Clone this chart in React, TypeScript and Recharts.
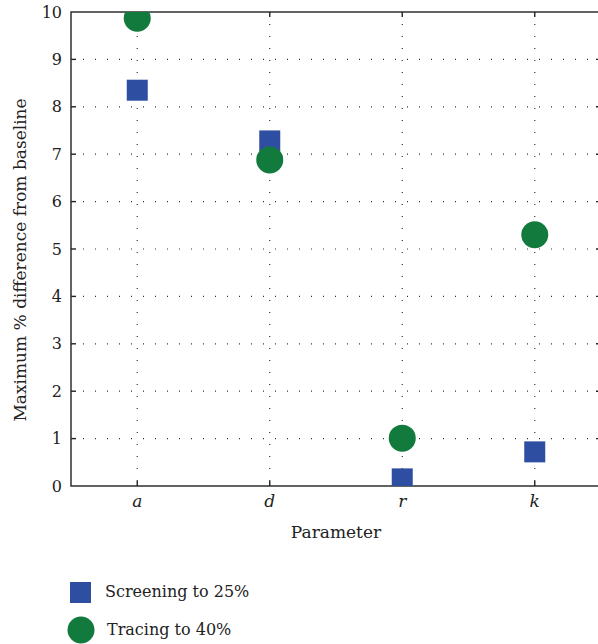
import React from 'react';
import { ScatterChart, Scatter, XAxis, YAxis, CartesianGrid, Legend, Label } from 'recharts';

const categories = ['a', 'd', 'r', 'k'];
const screening = [8.35, 7.28, 0.15, 0.72];
const tracing = [9.87, 6.88, 1.01, 5.3];
const yTicks = [0, 1, 2, 3, 4, 5, 6, 7, 8, 9, 10];
const xTicks = [0, 1, 2, 3];
const innerYTicks = [1, 2, 3, 4, 5, 6, 7, 8, 9];

const X_MIN = -0.5;
const X_MAX = 3.5;
const Y_MIN = 0;
const Y_MAX = 10;

// layout
const CHART_W = 602;
const CHART_H = 644;
const MARGIN_TOP = 12;
const MARGIN_RIGHT = 1;
const Y_AXIS_W = 71;
const X_AXIS_H = 82;
const LEGEND_H = 76;
const PLOT_L = Y_AXIS_W;
const PLOT_R = CHART_W - MARGIN_RIGHT;
const PLOT_T = MARGIN_TOP;
const PLOT_B = CHART_H - LEGEND_H - X_AXIS_H;
const TICK_LEN = 5;

const BLUE = '#2e4ea1';
const GREEN = '#127a3c';
const FONT = 'DejaVu Serif';
const INK = '#222';

const screeningData = categories.map((c, i) => ({ x: i, y: screening[i], name: c }));
const tracingData = categories.map((c, i) => ({ x: i, y: tracing[i], name: c }));

const sx = (v: number) => PLOT_L + ((v - X_MIN) / (X_MAX - X_MIN)) * (PLOT_R - PLOT_L);
const sy = (v: number) => PLOT_B - ((v - Y_MIN) / (Y_MAX - Y_MIN)) * (PLOT_B - PLOT_T);

const SquareDot = (props: any) => {
  const { cx, cy } = props;
  return <rect x={cx - 10.5} y={cy - 10.5} width={21} height={21} fill={BLUE} />;
};

const CircleDot = (props: any) => {
  const { cx, cy } = props;
  return <circle cx={cx} cy={cy} r={13.5} fill={GREEN} />;
};

// box frame with inward ticks, drawn behind the chart
const Frame = () => (
  <svg width={CHART_W} height={CHART_H} style={{ position: 'absolute', left: 0, top: 0, pointerEvents: 'none' }}>
    <g stroke={INK} strokeWidth={1.4} fill="none">
      <rect x={PLOT_L} y={PLOT_T} width={PLOT_R - PLOT_L} height={PLOT_B - PLOT_T} />
      {innerYTicks.map((v) => (
        <g key={'y' + v}>
          <line x1={PLOT_L} y1={sy(v)} x2={PLOT_L + TICK_LEN} y2={sy(v)} />
          <line x1={PLOT_R - TICK_LEN} y1={sy(v)} x2={PLOT_R} y2={sy(v)} />
        </g>
      ))}
      {xTicks.map((v) => (
        <g key={'x' + v}>
          <line x1={sx(v)} y1={PLOT_B} x2={sx(v)} y2={PLOT_B - TICK_LEN} />
          <line x1={sx(v)} y1={PLOT_T} x2={sx(v)} y2={PLOT_T + TICK_LEN} />
        </g>
      ))}
    </g>
  </svg>
);

const LegendBox = () => (
  <div style={{ position: 'relative', width: 598, height: LEGEND_H, fontSize: 16, color: INK, lineHeight: '20px', fontFamily: FONT }}>
    <svg width={30} height={30} style={{ position: 'absolute', left: 66, top: 10 }}>
      <rect x={4} y={4} width={21} height={21} fill={BLUE} />
    </svg>
    <span style={{ position: 'absolute', left: 105, top: 14, whiteSpace: 'nowrap' }}>Screening to 25%</span>
    <svg width={30} height={30} style={{ position: 'absolute', left: 66, top: 47 }}>
      <circle cx={15} cy={15} r={13.5} fill={GREEN} />
    </svg>
    <span style={{ position: 'absolute', left: 107, top: 52, whiteSpace: 'nowrap' }}>Tracing to 40%</span>
  </div>
);

export default function App() {
  return (
    <div style={{ position: 'absolute', left: 0, top: 0, width: 598, height: 644, overflow: 'hidden', background: '#fff' }}>
      <Frame />
      <ScatterChart width={CHART_W} height={CHART_H} margin={{ top: MARGIN_TOP, right: MARGIN_RIGHT, bottom: 0, left: 0 }}>
        <CartesianGrid
          stroke="#333"
          strokeDasharray="1 11"
          strokeWidth={1.2}
          horizontalValues={innerYTicks}
          verticalValues={xTicks}
        />
        <XAxis
          dataKey="x"
          type="number"
          domain={[X_MIN, X_MAX]}
          ticks={xTicks}
          allowDataOverflow
          tickFormatter={(v: number) => categories[v] ?? ''}
          height={X_AXIS_H}
          tickSize={-5}
          tickMargin={14}
          axisLine={false}
          tickLine={false}
          tick={{ fill: INK, fontSize: 17, fontFamily: FONT, fontStyle: 'italic' }}
        >
          <Label
            content={(p: any) => {
              const vb = p.viewBox;
              return (
                <text x={vb.x + vb.width / 2} y={vb.y + 52} textAnchor="middle" fill={INK} fontSize={17} fontFamily={FONT}>
                  Parameter
                </text>
              );
            }}
          />
        </XAxis>
        <YAxis
          dataKey="y"
          type="number"
          domain={[Y_MIN, Y_MAX]}
          ticks={yTicks}
          allowDataOverflow
          width={Y_AXIS_W}
          tickSize={-5}
          tickMargin={14}
          axisLine={false}
          tickLine={false}
          tick={{ fill: INK, fontSize: 16, fontFamily: FONT }}
        >
          <Label
            content={(p: any) => {
              const vb = p.viewBox;
              const x = vb.x + 26;
              const y = vb.y + vb.height / 2 + 11;
              return (
                <text x={x} y={y} transform={`rotate(-90 ${x} ${y})`} textAnchor="middle" fill={INK} fontSize={17} fontFamily={FONT}>
                  Maximum % difference from baseline
                </text>
              );
            }}
          />
        </YAxis>
        <Legend verticalAlign="bottom" align="left" wrapperStyle={{ left: 0, width: 598 }} content={() => <LegendBox />} />
        <Scatter name="Screening to 25%" data={screeningData} shape={SquareDot} isAnimationActive={false} />
        <Scatter name="Tracing to 40%" data={tracingData} shape={CircleDot} isAnimationActive={false} />
      </ScatterChart>
    </div>
  );
}
